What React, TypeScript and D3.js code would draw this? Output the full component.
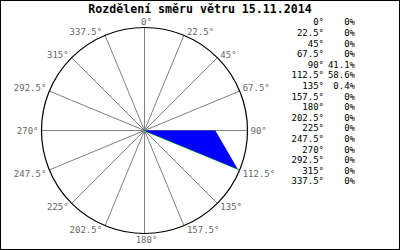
import React from "react";
import * as d3 from "d3";

const title = "Rozdělení směru větru 15.11.2014";
const directions = [0, 22.5, 45, 67.5, 90, 112.5, 135, 157.5, 180, 202.5, 225, 247.5, 270, 292.5, 315, 337.5];
const directionLabels = ["0°", "22.5°", "45°", "67.5°", "90°", "112.5°", "135°", "157.5°", "180°", "202.5°", "225°", "247.5°", "270°", "292.5°", "315°", "337.5°"];
const shares = [0, 0, 0, 0, 41.1, 58.6, 0.4, 0, 0, 0, 0, 0, 0, 0, 0, 0];

const W = 400;
const H = 250;
const cx = 144.5;
const cy = 130.5;
const R = 103;
const FONT = "'DejaVu Sans Mono', monospace";

export default function App() {
  const rScale = d3.scaleLinear().domain([0, d3.max(shares) as number]).range([0, R - 2]);
  const toRad = (deg: number) => (deg * Math.PI) / 180;
  const pt = (deg: number, r: number): [number, number] => [cx + r * Math.sin(toRad(deg)), cy - r * Math.cos(toRad(deg))];

  const polyPts: [number, number][] = directions.map((d, i) => pt(d, rScale(shares[i])));
  const line = d3.line<[number, number]>().curve(d3.curveLinearClosed);
  const polyPath = line(polyPts) || "";

  // lower edge (max point back toward center) in green beneath fill
  const maxIdx = shares.indexOf(d3.max(shares) as number);
  const edgePath = d3.line<[number, number]>()([polyPts[maxIdx], polyPts[maxIdx + 1], [cx, cy]]) || "";

  const legendY = d3.scaleLinear().domain([0, directions.length - 1]).range([25.3, 25.3 + 15 * 10.6]);

  return (
    <svg width={W} height={H} style={{ position: "absolute", left: 0, top: 0, background: "#fff" }}>
      <rect x={0.5} y={0.5} width={W - 1} height={H - 1} fill="#fff" stroke="#000" />
      <text x={200} y={13} textAnchor="middle" fontFamily={FONT} fontWeight="bold" fontSize={11.6} fill="#000">
        {title}
      </text>
      {directions.map((d, i) => {
        const [x, y] = pt(d, R);
        return <line key={"s" + i} x1={cx} y1={cy} x2={x} y2={y} stroke="#808080" strokeWidth={1} />;
      })}
      <path d={edgePath} fill="none" stroke="#00ff00" strokeWidth={1} />
      <path d={polyPath} fill="#0000ff" stroke="none" />
      <circle cx={cx} cy={cy} r={R} fill="none" stroke="#000" strokeWidth={1.2} />
      {directions.map((d, i) => {
        const s = Math.sin(toRad(d));
        const c = Math.cos(toRad(d));
        const [x, y] = pt(d, R);
        let anchor: "start" | "end" | "middle" = "middle";
        let tx = x + 2;
        if (s > 0.01) {
          anchor = "start";
          tx = x + 3;
        } else if (s < -0.01) {
          anchor = "end";
          tx = x - 3;
        }
        let ty = y + 3;
        if (Math.abs(s) < 0.01) {
          ty = c > 0 ? y - 3 : y + 9;
        } else if (c > 0.01) {
          ty = y;
        } else if (c < -0.01) {
          ty = y + 7;
        }
        return (
          <text key={"l" + i} x={tx} y={ty} textAnchor={anchor} fontFamily={FONT} fontSize={9} fill="#666">
            {directionLabels[i]}
          </text>
        );
      })}
      {directions.map((d, i) => (
        <g key={"g" + i}>
          <text x={324} y={legendY(i)} textAnchor="end" fontFamily={FONT} fontSize={9} fill="#000">
            {directionLabels[i]}
          </text>
          <text x={355} y={legendY(i)} textAnchor="end" fontFamily={FONT} fontSize={9} fill="#000">
            {shares[i] + "%"}
          </text>
        </g>
      ))}
    </svg>
  );
}
